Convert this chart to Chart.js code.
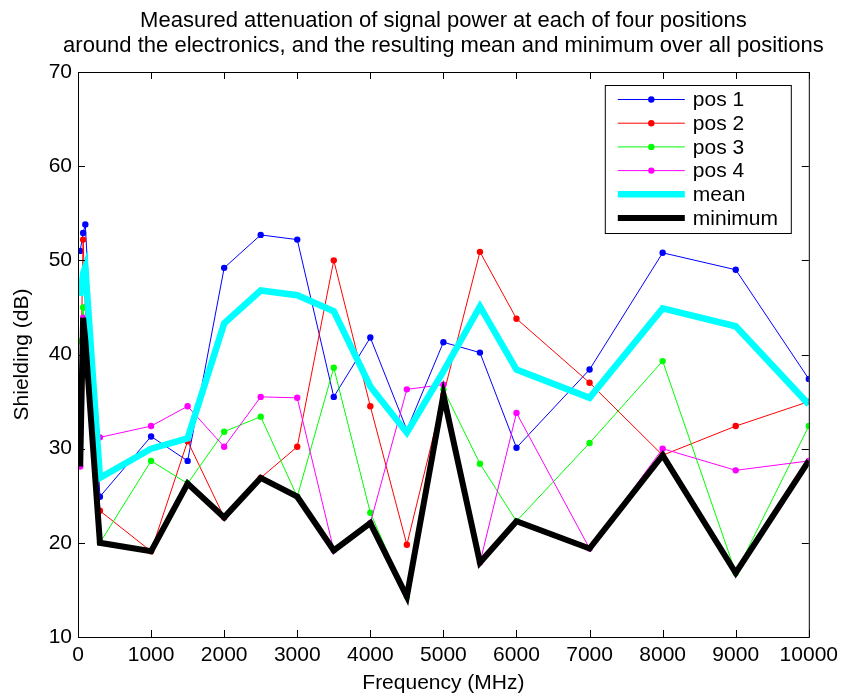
<!DOCTYPE html>
<html lang="en">
<head>
    <meta charset="UTF-8">
    <title>Measured attenuation of signal power</title>
    <script src="https://cdn.jsdelivr.net/npm/chart.js"></script>
    <style>
        body { margin: 0; background: #fff; }
    </style>
</head>
<body>
    <canvas id="shieldChart" width="844" height="696"></canvas>
    <script>
        // Frequencies (MHz) and measured shielding (dB) per position
        const freq = [30, 70, 100, 300, 1000, 1500, 2000, 2500, 3000, 3500, 4000, 4500, 5000, 5500, 6000, 7000, 8000, 9000, 10000];
        const pos1 = [51.0, 52.9, 53.8, 24.9, 31.3, 28.7, 49.2, 52.7, 52.2, 35.5, 41.8, 32.0, 41.3, 40.2, 30.1, 38.4, 50.8, 49.0, 37.4];
        const pos2 = [34.5, 52.2, 45.0, 23.4, 19.1, 30.8, 22.7, 26.9, 30.2, 50.0, 34.5, 19.8, 35.7, 50.9, 43.8, 37.0, 29.3, 32.4, 35.0];
        const pos3 = [41.4, 45.0, 41.5, 20.0, 28.7, 26.3, 31.8, 33.4, 24.9, 38.6, 23.2, 14.3, 36.3, 28.4, 22.3, 30.6, 39.3, 16.8, 32.4];
        const pos4 = [28.1, 43.9, 43.0, 31.2, 32.4, 34.5, 30.2, 35.5, 35.4, 19.2, 22.1, 36.3, 36.8, 17.9, 33.8, 19.4, 30.0, 27.7, 28.7];
        const meanDb = [46.2, 48.6, 49.3, 26.9, 30.0, 31.1, 43.3, 46.8, 46.3, 44.6, 36.6, 31.7, 38.2, 45.1, 38.4, 35.4, 44.9, 43.0, 34.7];
        const minDb = [28.1, 43.9, 41.5, 20.0, 19.1, 26.3, 22.7, 26.9, 24.9, 19.2, 22.1, 14.3, 35.7, 17.9, 22.3, 19.4, 29.3, 16.8, 28.7];

        const titleLines = [
            'Measured attenuation of signal power at each of four positions',
            'around the electronics, and the resulting mean and minimum over all positions'
        ];

        const FONT = '"Liberation Sans", Arial, Helvetica, sans-serif';
        Chart.defaults.font.family = FONT;
        Chart.defaults.font.size = 21;
        Chart.defaults.color = '#000';

        function pts(vals) {
            return freq.map((f, i) => ({ x: f, y: vals[i] }));
        }

        function series(label, vals, color, width, radius, order) {
            return {
                label: label,
                data: pts(vals),
                borderColor: color,
                backgroundColor: color,
                borderWidth: width,
                pointRadius: radius,
                pointHoverRadius: radius,
                pointBorderWidth: 0,
                tension: 0,
                order: order
            };
        }

        // box, inward ticks, title and legend in the old matlab look
        const matlabFrame = {
            id: 'matlabFrame',
            afterDraw(chart) {
                const ctx = chart.ctx;
                const a = chart.chartArea;
                const xs = chart.scales.x, ys = chart.scales.y;
                ctx.save();
                ctx.strokeStyle = '#000';
                ctx.lineWidth = 1;
                ctx.strokeRect(a.left + 0.5, a.top + 0.5, a.right - a.left, a.bottom - a.top);

                const tl = 7;
                ctx.beginPath();
                xs.ticks.forEach(t => {
                    const px = Math.round(xs.getPixelForValue(t.value)) + 0.5;
                    ctx.moveTo(px, a.bottom); ctx.lineTo(px, a.bottom - tl);
                    ctx.moveTo(px, a.top); ctx.lineTo(px, a.top + tl);
                });
                ys.ticks.forEach(t => {
                    const py = Math.round(ys.getPixelForValue(t.value)) + 0.5;
                    ctx.moveTo(a.left, py); ctx.lineTo(a.left + tl, py);
                    ctx.moveTo(a.right, py); ctx.lineTo(a.right - tl, py);
                });
                ctx.stroke();

                // title
                ctx.fillStyle = '#000';
                ctx.font = '22px ' + FONT;
                ctx.textAlign = 'center';
                ctx.textBaseline = 'middle';
                const cx = (a.left + a.right) / 2;
                ctx.fillText(titleLines[0], cx, 21);
                ctx.fillText(titleLines[1], cx, 46);

                // legend
                const bw = 186, bh = 148;
                const bx = a.right - 18 - bw, by = a.top + 13;
                ctx.fillStyle = '#fff';
                ctx.fillRect(bx, by, bw, bh);
                ctx.strokeRect(bx + 0.5, by + 0.5, bw, bh);
                ctx.font = '21px ' + FONT;
                ctx.textAlign = 'left';
                chart.data.datasets.forEach((ds, i) => {
                    const ry = by + 14.5 + i * 23.7;
                    const x0 = bx + 13, x1 = bx + 80;
                    ctx.strokeStyle = ds.borderColor;
                    ctx.lineWidth = ds.borderWidth;
                    ctx.beginPath();
                    ctx.moveTo(x0, ry); ctx.lineTo(x1, ry);
                    ctx.stroke();
                    if (ds.pointRadius > 0) {
                        ctx.fillStyle = ds.borderColor;
                        ctx.beginPath();
                        ctx.arc((x0 + x1) / 2, ry, ds.pointRadius, 0, Math.PI * 2);
                        ctx.fill();
                    }
                    ctx.fillStyle = '#000';
                    ctx.fillText(ds.label, bx + 88, ry + 1);
                });
                ctx.restore();
            }
        };

        const ctx = document.getElementById('shieldChart').getContext('2d');
        const chart = new Chart(ctx, {
            type: 'line',
            data: {
                datasets: [
                    series('pos 1', pos1, '#0000ff', 1, 3.2, 5),
                    series('pos 2', pos2, '#ff0000', 1, 3.2, 4),
                    series('pos 3', pos3, '#00ff00', 1, 3.2, 3),
                    series('pos 4', pos4, '#ff00ff', 1, 3.2, 2),
                    series('mean', meanDb, '#00ffff', 6.5, 0, 1),
                    series('minimum', minDb, '#000000', 6, 0, 0)
                ]
            },
            options: {
                responsive: false,
                animation: false,
                layout: { padding: { top: 72, right: 34, left: 0, bottom: 0 } },
                plugins: {
                    legend: { display: false },
                    title: { display: false },
                    tooltip: { enabled: false }
                },
                scales: {
                    x: {
                        type: 'linear',
                        min: 0,
                        max: 10000,
                        ticks: { stepSize: 1000, padding: 6, maxRotation: 0, autoSkip: false, callback: v => String(v) },
                        grid: { display: false, drawTicks: false },
                        border: { display: false },
                        title: { display: true, text: 'Frequency (MHz)', padding: 0, font: { size: 21 } },
                        afterFit(scale) { scale.height = 59; }
                    },
                    y: {
                        min: 10,
                        max: 70,
                        ticks: { stepSize: 10, padding: 6, callback: v => String(v) },
                        grid: { display: false, drawTicks: false },
                        border: { display: false },
                        title: { display: true, text: 'Shielding (dB)', padding: { top: 10, bottom: 0 }, font: { size: 21 } },
                        afterFit(scale) { scale.width = 78; }
                    }
                }
            },
            plugins: [matlabFrame]
        });
    </script>
</body>
</html>
